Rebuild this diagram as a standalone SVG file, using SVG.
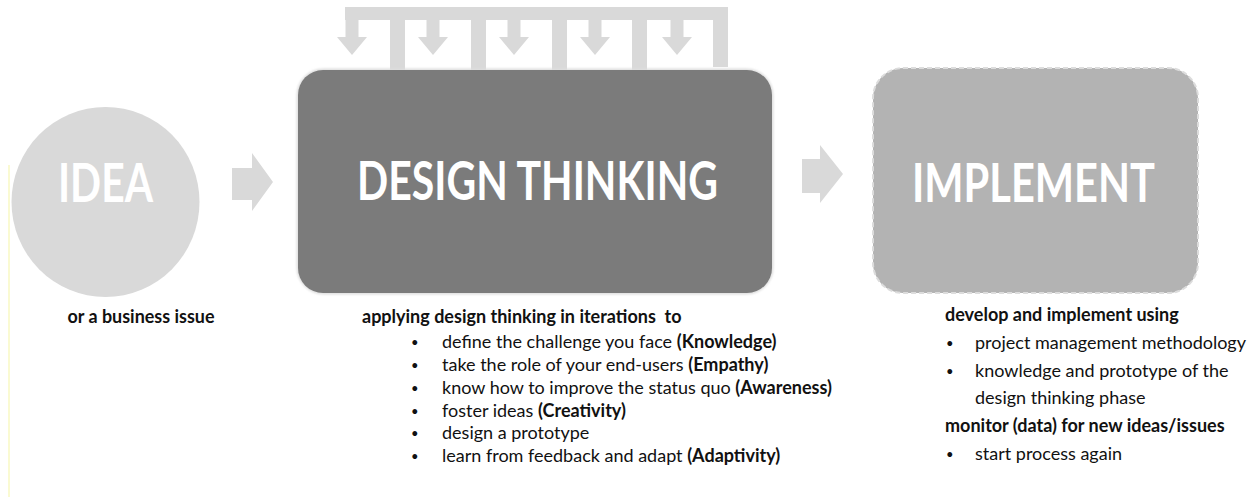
<svg xmlns="http://www.w3.org/2000/svg" width="1253" height="497" viewBox="0 0 1253 497">
  <style>
    .light { fill: #d9d9d9; }
    .title { font-family: Lato, "Open Sans", "Liberation Sans", sans-serif; font-weight: 700; fill: #ffffff; font-size: 54px; }
    .txt { font-family: Lato, "Open Sans", "Liberation Sans", sans-serif; font-size: 18px; fill: #111111; }
    .b { font-weight: 700; }
    .dot { font-size: 13px; }
  </style>
  <defs>
    <filter id="soft" x="-5%" y="-5%" width="110%" height="110%">
      <feGaussianBlur stdDeviation="1.2"/>
    </filter>
  </defs>
  <rect width="1253" height="497" fill="#ffffff"/>

  <!-- faint margin rule on the left -->
  <line x1="9" y1="165" x2="9" y2="497" stroke="#fafad2" stroke-width="2"/>

  <!-- iteration feedback comb above the design thinking box -->
  <g id="feedback" class="light">
    <rect x="345" y="7" width="383" height="13"/>
    <rect x="390" y="7" width="15" height="63"/>
    <rect x="471" y="7" width="15" height="63"/>
    <rect x="552" y="7" width="15" height="63"/>
    <rect x="632" y="7" width="15" height="63"/>
    <rect x="713" y="7" width="15" height="60"/>
    <path d="M345.5,19 H358.5 V37 H367 L352,55 L337,37 H345.5 Z"/>
    <path d="M426.5,19 H439.5 V37 H448 L433,55 L418,37 H426.5 Z"/>
    <path d="M507.5,19 H520.5 V37 H529 L514,55 L499,37 H507.5 Z"/>
    <path d="M588.5,19 H601.5 V37 H610 L595,55 L580,37 H588.5 Z"/>
    <path d="M670.5,19 H683.5 V37 H692 L677,55 L662,37 H670.5 Z"/>
  </g>

  <!-- connectors between the stages -->
  <g id="connectors" class="light">
    <path d="M232,168 H252 V153 L273,182 L252,211 V200 H232 Z"/>
    <path d="M802,159 H820 V145 L843,174 L820,203 V193 H802 Z"/>
  </g>

  <g id="idea">
    <ellipse cx="105.5" cy="202" rx="94" ry="95" class="light"/>
    <text x="105.5" y="202" class="title" text-anchor="middle" textLength="95" lengthAdjust="spacingAndGlyphs">IDEA</text>
    <text x="141" y="323" class="txt b" text-anchor="middle" textLength="147" lengthAdjust="spacingAndGlyphs">or a business issue</text>
  </g>

  <g id="design-thinking">
    <rect x="296.5" y="68.5" width="477" height="226" rx="27" fill="#dedede" filter="url(#soft)"/>
    <rect x="298" y="70" width="474" height="223" rx="25" fill="#7b7b7b"/>
    <text x="537.5" y="200" class="title" text-anchor="middle" textLength="361" lengthAdjust="spacingAndGlyphs">DESIGN THINKING</text>
    <text x="362" y="323" class="txt b" xml:space="preserve">applying design thinking in iterations  to</text>
    <g class="txt">
      <text x="411" y="347" class="dot">•</text>
      <text x="442" y="348">define the challenge you face <tspan class="b">(Knowledge)</tspan></text>
      <text x="411" y="370" class="dot">•</text>
      <text x="442" y="371">take the role of your end-users <tspan class="b">(Empathy)</tspan></text>
      <text x="411" y="393" class="dot">•</text>
      <text x="442" y="394">know how to improve the status quo <tspan class="b">(Awareness)</tspan></text>
      <text x="411" y="416" class="dot">•</text>
      <text x="442" y="417">foster ideas <tspan class="b">(Creativity)</tspan></text>
      <text x="411" y="438" class="dot">•</text>
      <text x="442" y="439">design a prototype</text>
      <text x="411" y="461" class="dot">•</text>
      <text x="442" y="462">learn from feedback and adapt <tspan class="b">(Adaptivity)</tspan></text>
    </g>
  </g>

  <g id="implement">
    <rect x="873" y="68" width="325" height="225" rx="30" fill="#b3b3b3" stroke="#dcdcdc" stroke-width="2" stroke-dasharray="5 3"/>
    <text x="1033.5" y="202" class="title" text-anchor="middle" textLength="243" lengthAdjust="spacingAndGlyphs">IMPLEMENT</text>
    <text x="945" y="321" class="txt b">develop and implement using</text>
    <g class="txt">
      <text x="946" y="348" class="dot">•</text>
      <text x="975" y="349">project management methodology</text>
      <text x="946" y="376" class="dot">•</text>
      <text x="975" y="377">knowledge and prototype of the</text>
      <text x="975" y="404">design thinking phase</text>
      <text x="945" y="432" class="b">monitor (data) for new ideas/issues</text>
      <text x="946" y="459" class="dot">•</text>
      <text x="975" y="460">start process again</text>
    </g>
  </g>
</svg>
